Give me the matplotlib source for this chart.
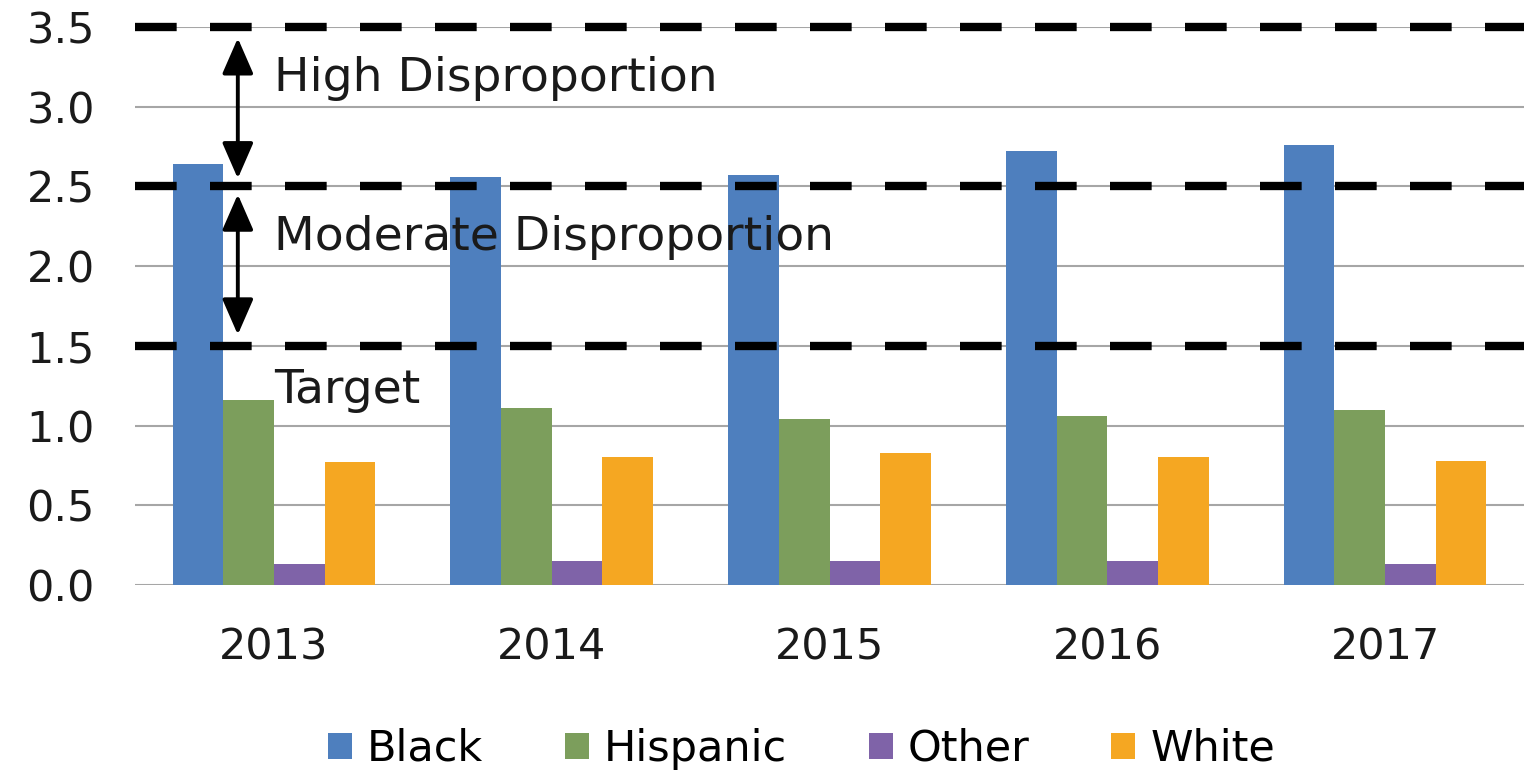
import matplotlib
matplotlib.use("Agg")
import matplotlib.pyplot as plt
import numpy as np

years = ["2013", "2014", "2015", "2016", "2017"]
series = ["Black", "Hispanic", "Other", "White"]
black = [2.64, 2.56, 2.57, 2.72, 2.76]
hispanic = [1.16, 1.11, 1.04, 1.06, 1.10]
other = [0.13, 0.15, 0.15, 0.15, 0.13]
white = [0.77, 0.80, 0.83, 0.80, 0.78]
thresholds = [1.5, 2.5, 3.5]
zone_labels = ["High Disproportion", "Moderate Disproportion", "Target"]
yticks = [0.0, 0.5, 1.0, 1.5, 2.0, 2.5, 3.0, 3.5]

colors = ["#4E7FBE", "#7C9E5C", "#7F63A8", "#F5A722"]

plt.rcParams['font.family'] = ['DejaVu Sans']
fig = plt.figure(figsize=(15.24, 7.8), dpi=100)
ax = fig.add_axes([0.0886, 0.25, 0.9114, 0.7154])

x = np.arange(len(years))
bw = 0.1825
data = [black, hispanic, other, white]
for i, (vals, c, name) in enumerate(zip(data, colors, series)):
    ax.bar(x + (i - 1.5) * bw, vals, width=bw, color=c, label=name, zorder=2)

ax.set_xlim(-0.5, len(years) - 0.5)
ax.set_ylim(0, 3.5)
ax.set_yticks(yticks)
ax.set_yticklabels([f"{v:.1f}" for v in yticks], fontsize=31, color="#1a1a1a")
ax.set_xticks(x)
ax.set_xticklabels(years, fontsize=31, color="#1a1a1a")
ax.tick_params(length=0)
ax.tick_params(axis='y', pad=29)
ax.tick_params(axis='x', pad=30)
for s in ax.spines.values():
    s.set_visible(False)
ax.yaxis.grid(True, color="#A6A6A6", linewidth=1.5, zorder=0)
ax.set_axisbelow(True)

for t in thresholds:
    ax.axhline(t, color="black", linewidth=6, linestyle=(0, (5.0, 4.0)),
               zorder=3, clip_on=False)

# arrows
ax_x = -0.13
astyle = "<|-|>,head_length=0.55,head_width=0.24"
ax.annotate("", xy=(ax_x, 2.55), xytext=(ax_x, 3.43),
            arrowprops=dict(arrowstyle=astyle, color="black", lw=2.8,
                            mutation_scale=40, shrinkA=0, shrinkB=0), zorder=4)
ax.annotate("", xy=(ax_x, 1.57), xytext=(ax_x, 2.45),
            arrowprops=dict(arrowstyle=astyle, color="black", lw=2.8,
                            mutation_scale=40, shrinkA=0, shrinkB=0), zorder=4)

tx = 0.0
ax.text(tx, 3.18, zone_labels[0], fontsize=34, va="center", ha="left", color="#1a1a1a", zorder=5)
ax.text(tx, 2.18, zone_labels[1], fontsize=34, va="center", ha="left", color="#1a1a1a", zorder=5)
ax.text(tx, 1.22, zone_labels[2], fontsize=34, va="center", ha="left", color="#1a1a1a", zorder=5)

leg = fig.legend(loc="center", bbox_to_anchor=(0.526, 0.04), ncol=4, frameon=False,
                 fontsize=31, handlelength=0.55, handleheight=0.55, handletextpad=0.35,
                 columnspacing=1.9)

fig.savefig("out.png", dpi=100)
